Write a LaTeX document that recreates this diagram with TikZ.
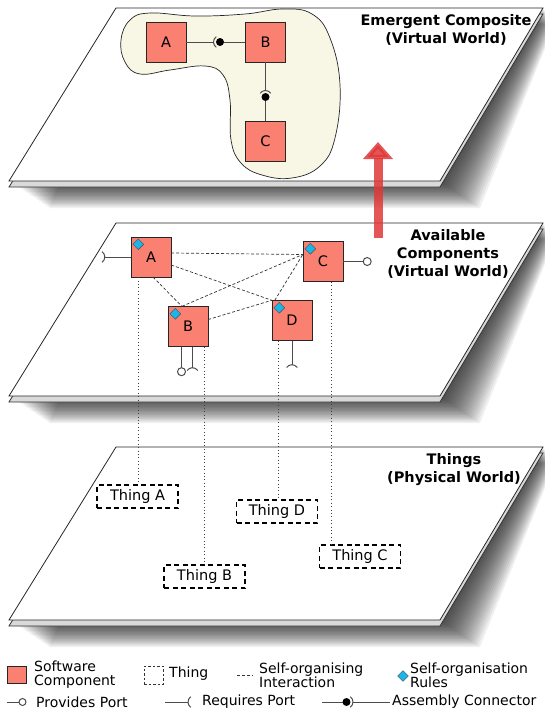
\documentclass[tikz,border=0pt]{standalone}
\usepackage{fontspec}
\setmainfont{DejaVu Sans}
\usetikzlibrary{arrows.meta,shapes.geometric}

\definecolor{compred}{HTML}{FA8072}
\definecolor{blobcream}{HTML}{F8F6E4}
\definecolor{rulecyan}{HTML}{1CB5E8}
\definecolor{riseRed}{HTML}{E03838}

\tikzset{
  comp/.style={draw=black!85, fill=compred, minimum size=40pt, inner sep=0pt, font=\fontsize{14.5}{16}\selectfont},
  thing/.style={draw, line width=1.4pt, dash pattern=on 5pt off 3.5pt, minimum width=81pt, minimum height=23pt, inner sep=0pt, font=\fontsize{14.5}{16}\selectfont},
  world/.style={align=center, inner sep=0pt, font=\fontsize{14.5}{18}\selectfont\bfseries},
  port/.style={draw=black!70, line width=1pt},
  selforg/.style={black!80, dash pattern=on 3pt off 2pt, line width=0.7pt},
  trace/.style={black!75, dash pattern=on 0.8pt off 2.6pt, line width=0.8pt},
  rules/.style={diamond, draw=black!70, fill=rulecyan, inner sep=0pt, minimum size=11pt},
  legtext/.style={anchor=west, align=left, inner sep=0pt, font=\fontsize{14}{14}\selectfont},
}

\begin{document}
\begin{tikzpicture}[x=1pt, y=-1pt]
  \useasboundingbox (0,0) rectangle (545,710);

  % the three sheets, each with a soft shadow and a sheet below it
  \foreach \t in {8,223,447}{
    \foreach \i in {1,...,20}
      \fill[black, opacity=0.06]
        (116+0.6*\i,\t+0.8*\i) -- (543+0.6*\i,\t+0.8*\i) -- (440+2*\i,\t+173+1.35*\i) -- (9+2*\i,\t+173+1.35*\i) -- cycle;
    \filldraw[draw=black!80, fill=black!15, line width=0.8pt] (116,\t+6) -- (543,\t+6) -- (440,\t+179) -- (9,\t+179) -- cycle;
    \filldraw[draw=black!85, fill=white, line width=0.8pt] (116,\t) -- (543,\t) -- (440,\t+173) -- (9,\t+173) -- cycle;
  }

  % emergent composite
  \filldraw[draw=black!85, fill=blobcream, line width=0.7pt] plot[smooth cycle, tension=0.7] coordinates {
    (121,40) (130,20) (150,13) (195,16) (245,14) (283,9) (312,14) (330,38) (340,85) (335,138)
    (320,166) (292,178) (262,175) (241,163) (231,140) (230,100) (223,75) (205,66) (170,70) (140,74) (125,62)};
  \node[comp] (eA) at (166,42) {A};
  \node[comp] (eB) at (265.5,42) {B};
  \node[comp] (eC) at (265.5,141.5) {C};
  \coordinate (ab) at (220,42);   % ball between A and B
  \draw[port] (eA.east) -- ([xshift=-6.5pt]ab);
  \draw[port] ([shift={(125:6.5pt)}]ab) arc[start angle=125, end angle=235, radius=6.5pt];
  \draw[port] (ab) -- (eB.west);
  \fill (ab) circle (4pt);
  \coordinate (bc) at (265.5,97);   % ball between B and C
  \draw[port] (eB.south) -- ([yshift=6.5pt]bc);
  \draw[port] ([shift={(35:6.5pt)}]bc) arc[start angle=35, end angle=145, radius=6.5pt];
  \draw[port] (bc) -- (eC.north);
  \fill (bc) circle (4pt);
  \node[world] (lab1) at (446,30) {Emergent Composite\\(Virtual World)};

  % available components
  \node[comp] (cA) at (151,257) {A};
  \node[comp] (cC) at (323,261.5) {C};
  \node[comp] (cB) at (188,326.5) {B};
  \node[comp] (cD) at (292,320.5) {D};
  \foreach \n in {cA,cB,cC,cD}
    \node[rules] at ([xshift=7.5pt,yshift=-7.5pt]\n.north west) {};
  \coordinate (hubC) at ([yshift=7pt]cC.west);
  \draw[selforg] ([yshift=4pt]cA.east) -- (hubC);
  \draw[selforg] ([yshift=-8pt]cA.east) -- (cD.north west);
  \draw[selforg] ([xshift=2pt]cA.south) -- ([xshift=-6pt]cB.north);
  \draw[selforg] ([xshift=-6pt]cB.north) -- (hubC);
  \draw[selforg] ([yshift=7pt]cB.east) -- (cD.north west);
  \draw[selforg] ([xshift=3pt]cD.north west) -- (hubC);
  % ports
  \draw[port] (cA.west) -- ++(-26,0) coordinate (rA);
  \coordinate (rAc) at ([xshift=-6.5pt]rA);
  \draw[port] ([shift={(-55:6.5pt)}]rAc) arc[start angle=-55, end angle=55, radius=6.5pt];
  \draw[port] (cC.east) -- ++(20,0) coordinate (pC);
  \draw[port, fill=white] ([xshift=4pt]pC) circle (4pt);
  \draw[port] ([xshift=-6.5pt]cB.south) -- ++(0,21) coordinate (pB);
  \draw[port, fill=white] ([yshift=-4pt]pB) circle (4pt);
  \draw[port] ([xshift=4.5pt]cB.south) -- ++(0,21) coordinate (rB);
  \coordinate (rBc) at ([yshift=-6.5pt]rB);
  \draw[port] ([shift={(35:6.5pt)}]rBc) arc[start angle=35, end angle=145, radius=6.5pt];
  \draw[port] (cD.south) -- ++(0,24) coordinate (rD);
  \coordinate (rDc) at ([yshift=-6.5pt]rD);
  \draw[port] ([shift={(35:6.5pt)}]rDc) arc[start angle=35, end angle=145, radius=6.5pt];
  \node[world] (lab2) at (448,254) {Available\\Components\\(Virtual World)};

  % things
  \node[thing] (tA) at (137.5,496.5) {Thing A};
  \node[thing] (tB) at (204.5,576.5) {Thing B};
  \node[thing] (tD) at (277,511.5) {Thing D};
  \node[thing] (tC) at (360,556.5) {Thing C};
  \node[world] (lab3) at (454,470) {Things\\(Physical World)};

  % components down to their things
  \draw[trace] ([xshift=-13pt]cA.south) -- ([xshift=-13pt]cA.south |- tA.north);
  \draw[trace] ([xshift=16pt]cB.south) -- ([xshift=16pt]cB.south |- tB.north);
  \draw[trace] ([xshift=-14pt]cD.south) -- ([xshift=-14pt]cD.south |- tD.north);
  \draw[trace] ([xshift=8pt]cC.south) -- ([xshift=8pt]cC.south |- tC.north);

  % rising arrow
  \coordinate (riseS) at (378,238);
  \coordinate (riseE) at (378,142);
  \draw[riseRed, opacity=0.85, line width=9pt, -{Triangle[length=17pt,width=29pt]}] (riseS) -- (riseE);

  % legend
  \node[draw=black!85, fill=compred, minimum width=19pt, minimum height=17pt, inner sep=0pt] (kComp) at (17,675) {};
  \node[legtext] (kCompT) at (34,675) {Software\\Component};
  \node[draw=black!80, dash pattern=on 2.5pt off 2pt, minimum width=19pt, minimum height=18pt, inner sep=0pt] (kThing) at (153.5,675) {};
  \node[legtext] (kThingT) at (169,674) {Thing};
  \coordinate (kS0) at (237,675);
  \coordinate (kS1) at (253,675);
  \draw[selforg] (kS0) -- (kS1);
  \node[legtext] (kSelfT) at (259,675) {Self-organising\\Interaction};
  \node[rules] (kRule) at (403,676) {};
  \node[legtext] (kRuleT) at (410,675) {Self-organisation\\Rules};
  \coordinate (kP0) at (7,702);
  \draw[port] (kP0) -- ++(12,0) coordinate (kP1);
  \draw[port, fill=white] ([xshift=3.5pt]kP1) circle (3.5pt);
  \node[legtext] (kProvT) at (36,702) {Provides Port};
  \coordinate (kR0) at (165,702);
  \draw[port] (kR0) -- ++(23,0) coordinate (kR1);
  \coordinate (kR1c) at ([xshift=6.5pt]kR1);
  \draw[port] ([shift={(125:6.5pt)}]kR1c) arc[start angle=125, end angle=235, radius=6.5pt];
  \node[legtext] (kReqT) at (202,702) {Requires Port};
  \coordinate (kA0) at (322,702);
  \coordinate (kAb) at (346.5,702);
  \draw[port] (kA0) -- (kAb);
  \draw[port] ([shift={(-55:6.5pt)}]kAb) arc[start angle=-55, end angle=55, radius=6.5pt];
  \draw[port] ([xshift=6.5pt]kAb) -- ++(37,0) coordinate (kA1);
  \fill (kAb) circle (4pt);
  \node[legtext] (kAsmT) at (392,702) {Assembly Connector};
\end{tikzpicture}
\end{document}
